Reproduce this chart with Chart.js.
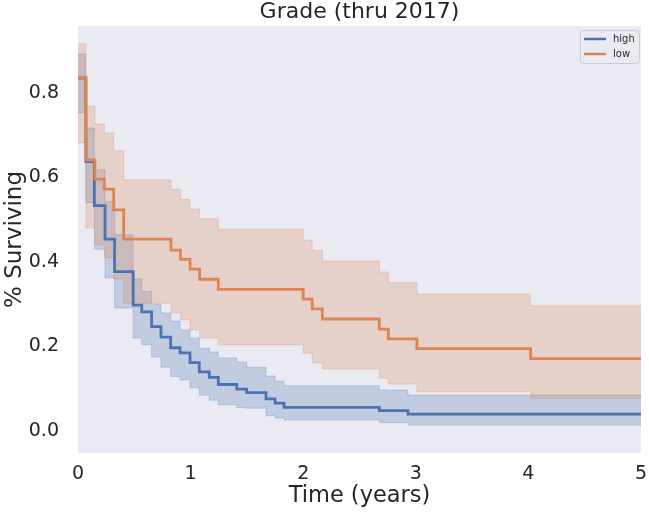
<!DOCTYPE html>
<html>
<head>
<meta charset="utf-8">
<script src="https://cdn.jsdelivr.net/npm/chart.js@4/dist/chart.umd.min.js"></script>
<style>
  html, body { margin: 0; padding: 0; background: #ffffff; }
  #wrap { width: 649px; height: 512px; }
</style>
</head>
<body>
<div id="wrap"><canvas id="km" width="649" height="512"></canvas></div>
<script>
// ── Datos (Kaplan-Meier, tiempo en años) ───────────────────────────────────
const TITLE = "Grade (thru 2017)";
const SERIES = ["high", "low"];

const highTimes = [0, 0.07, 0.145, 0.24, 0.325, 0.49, 0.566, 0.654, 0.737, 0.823, 0.906, 0.995, 1.077, 1.166, 1.246, 1.41, 1.498, 1.67, 1.75, 1.83, 2.676, 2.93, 5];
const highSurv  = [0.835, 0.637, 0.533, 0.454, 0.377, 0.298, 0.282, 0.247, 0.222, 0.197, 0.185, 0.162, 0.140, 0.127, 0.110, 0.099, 0.091, 0.076, 0.066, 0.056, 0.048, 0.040, 0.040];
const highUpper = [0.892, 0.717, 0.618, 0.543, 0.464, 0.360, 0.330, 0.300, 0.279, 0.260, 0.239, 0.220, 0.196, 0.187, 0.173, 0.163, 0.151, 0.130, 0.118, 0.107, 0.097, 0.085, 0.085];
const highLower = [0.753, 0.540, 0.430, 0.362, 0.291, 0.220, 0.204, 0.175, 0.151, 0.129, 0.121, 0.102, 0.085, 0.073, 0.062, 0.055, 0.054, 0.036, 0.031, 0.026, 0.020, 0.014, 0.014];

const lowTimes = [0, 0.07, 0.15, 0.234, 0.317, 0.406, 0.826, 0.91, 0.995, 1.08, 1.246, 2.0, 2.08, 2.17, 2.676, 2.756, 3.01, 4.02, 5];
const lowSurv  = [0.835, 0.641, 0.596, 0.572, 0.523, 0.454, 0.428, 0.406, 0.383, 0.359, 0.335, 0.312, 0.289, 0.265, 0.241, 0.218, 0.195, 0.171, 0.171];
const lowUpper = [0.916, 0.768, 0.726, 0.705, 0.663, 0.594, 0.572, 0.548, 0.525, 0.502, 0.477, 0.452, 0.427, 0.402, 0.376, 0.351, 0.324, 0.296, 0.296];
const lowLower = [0.682, 0.480, 0.440, 0.410, 0.360, 0.302, 0.279, 0.263, 0.239, 0.220, 0.204, 0.184, 0.161, 0.147, 0.125, 0.111, 0.093, 0.077, 0.077];

const xTicks = [0, 1, 2, 3, 4, 5];
const yTicks = [0.0, 0.2, 0.4, 0.6, 0.8];

const BLUE = "#4c72b0";
const ORANGE = "#dd8452";
const BLUE_CI = "rgba(76,114,176,0.25)";
const ORANGE_CI = "rgba(221,132,82,0.25)";
const TEXT = "#262626";
const FONT = "'DejaVu Sans', sans-serif";

const pts = (ts, vs) => ts.map((t, i) => ({ x: t, y: vs[i] }));

function ciSet(ts, vs, color, fill, order) {
  return {
    data: pts(ts, vs), stepped: "before", pointRadius: 0,
    borderColor: color, backgroundColor: color, borderWidth: 1,
    fill, order,
  };
}

function lineSet(label, ts, vs, color, order) {
  return {
    label, data: pts(ts, vs), stepped: "before", pointRadius: 0,
    borderColor: color, borderWidth: 2.8, fill: false, order,
  };
}

// fondo del área de trazado (estilo seaborn "dark") + título centrado sobre el área
const plotBg = {
  id: "plotBg",
  beforeDraw(chart) {
    const { ctx, chartArea: a } = chart;
    ctx.save();
    ctx.fillStyle = "#eaeaf2";
    ctx.fillRect(a.left, a.top, a.right - a.left, a.bottom - a.top);
    ctx.fillStyle = TEXT;
    ctx.font = "22px " + FONT;
    ctx.textAlign = "center";
    ctx.textBaseline = "middle";
    ctx.fillText(TITLE, (a.left + a.right) / 2, 12);
    ctx.restore();
  },
};

// leyenda dentro del área, arriba a la derecha, con marco
const legendBox = {
  id: "legendBox",
  afterDraw(chart) {
    const { ctx, chartArea: a } = chart;
    const w = 59, h = 33, x = a.right - w - 2, y = a.top + 4;
    ctx.save();
    ctx.beginPath();
    ctx.roundRect(x + 0.5, y + 0.5, w, h, 3);
    ctx.fillStyle = "rgba(234,234,242,0.8)";
    ctx.fill();
    ctx.strokeStyle = "#cccccc";
    ctx.lineWidth = 1;
    ctx.stroke();
    const colors = [BLUE, ORANGE];
    ctx.font = "10px " + FONT;
    ctx.textBaseline = "middle";
    SERIES.forEach((name, i) => {
      const ly = y + 9 + i * 15;
      ctx.beginPath();
      ctx.moveTo(x + 4, ly);
      ctx.lineTo(x + 26, ly);
      ctx.strokeStyle = colors[i];
      ctx.lineWidth = 2.5;
      ctx.stroke();
      ctx.fillStyle = TEXT;
      ctx.fillText(name, x + 33, ly);
    });
    ctx.restore();
  },
};

new Chart(document.getElementById("km"), {
  type: "line",
  data: {
    datasets: [
      lineSet(SERIES[1], lowTimes, lowSurv, ORANGE, 0),
      lineSet(SERIES[0], highTimes, highSurv, BLUE, 1),
      ciSet(lowTimes, lowUpper, ORANGE_CI, "+1", 2),
      ciSet(lowTimes, lowLower, ORANGE_CI, false, 3),
      ciSet(highTimes, highUpper, BLUE_CI, "+1", 4),
      ciSet(highTimes, highLower, BLUE_CI, false, 5),
    ],
  },
  options: {
    responsive: false,
    animation: false,
    layout: { padding: { left: 0, right: 8, top: 26, bottom: 0 } },
    plugins: {
      legend: { display: false },
      tooltip: { enabled: false },
      title: { display: false },
    },
    scales: {
      x: {
        type: "linear", min: 0, max: 5,
        grid: { display: false, drawTicks: false },
        border: { display: false },
        afterFit: (s) => { s.height = 59; s.paddingLeft = 0; s.paddingRight = 0; },
        afterBuildTicks: (s) => { s.ticks = xTicks.map((v) => ({ value: v })); },
        ticks: { color: TEXT, padding: 10, font: { family: FONT, size: 19 }, maxRotation: 0,
                 callback: (v) => String(v) },
        title: { display: true, text: "Time (years)", color: TEXT,
                 font: { family: FONT, size: 22.5 }, padding: { top: 0, bottom: 2.5 } },
      },
      y: {
        type: "linear", min: -0.052, max: 0.958,
        grid: { display: false, drawTicks: false },
        border: { display: false },
        afterFit: (s) => { s.width = 78; s.paddingTop = 0; s.paddingBottom = 0; },
        afterBuildTicks: (s) => { s.ticks = yTicks.map((v) => ({ value: v })); },
        ticks: { color: TEXT, padding: 19, font: { family: FONT, size: 19 },
                 callback: (v) => v.toFixed(1) },
        title: { display: true, text: "% Surviving", color: TEXT,
                 font: { family: FONT, size: 23 }, padding: { top: 1, bottom: 0 } },
      },
    },
  },
  plugins: [plotBg, legendBox],
});
</script>
</body>
</html>
